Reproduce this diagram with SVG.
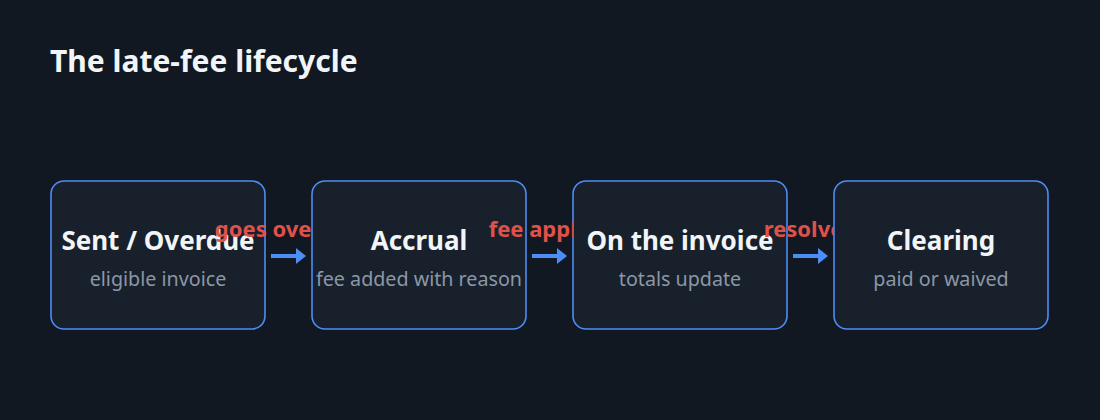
<svg xmlns="http://www.w3.org/2000/svg" width="1100" height="420" viewBox="0 0 1100 420">
  <style>
    .node rect { fill: #18202c; stroke: #4d8df6; stroke-width: 1.6; }
    .title { font-family: "Noto Sans", "Open Sans", sans-serif; font-weight: 700; font-size: 26px; fill: #f2f5f8; text-anchor: middle; }
    .sub { font-family: "Noto Sans", "Open Sans", sans-serif; font-size: 19.7px; fill: #8b97a7; text-anchor: middle; }
    .edge line { stroke: #4d8df6; stroke-width: 4; }
    .elabel { font-family: "Noto Sans", "Open Sans", sans-serif; font-weight: 700; font-size: 22px; fill: #e0514a; text-anchor: middle; }
  </style>
  <defs>
    <marker id="arrow" viewBox="0 0 10 16" refX="0" refY="8" markerWidth="10" markerHeight="16" markerUnits="userSpaceOnUse" orient="auto">
      <path d="M0,0 L10,8 L0,16 Z" fill="#4d8df6"/>
    </marker>
    <clipPath id="c1"><rect x="0" y="0" width="312" height="420"/></clipPath>
    <clipPath id="c2"><rect x="0" y="0" width="573" height="420"/></clipPath>
    <clipPath id="c3"><rect x="0" y="0" width="834" height="420"/></clipPath>
  </defs>
  <rect width="1100" height="420" fill="#111821"/>
  <text x="50" y="72" font-family="Noto Sans, Open Sans, sans-serif" font-weight="700" font-size="30" fill="#f2f5f8">The late-fee lifecycle</text>

  <g id="n1" class="node">
    <rect x="51" y="181" width="214" height="148" rx="13"/>
    <text class="title" x="158" y="250">Sent / Overdue</text>
    <text class="sub" x="158" y="286">eligible invoice</text>
  </g>
  <g id="n2" class="node">
    <rect x="312" y="181" width="214" height="148" rx="13"/>
    <text class="title" x="419" y="250">Accrual</text>
    <text class="sub" x="419" y="286">fee added with reason</text>
  </g>
  <g id="n3" class="node">
    <rect x="573" y="181" width="214" height="148" rx="13"/>
    <text class="title" x="680" y="250">On the invoice</text>
    <text class="sub" x="680" y="286">totals update</text>
  </g>
  <g id="n4" class="node">
    <rect x="834" y="181" width="214" height="148" rx="13"/>
    <text class="title" x="941" y="250">Clearing</text>
    <text class="sub" x="941" y="286">paid or waived</text>
  </g>

  <g id="connectors" class="edge">
    <line x1="271" y1="256" x2="296" y2="256" marker-end="url(#arrow)"/>
    <text class="elabel" x="288.5" y="237" clip-path="url(#c1)">goes overdue</text>
    <line x1="532" y1="256" x2="557" y2="256" marker-end="url(#arrow)"/>
    <text class="elabel" x="549.5" y="237" clip-path="url(#c2)">fee applied</text>
    <line x1="793" y1="256" x2="818" y2="256" marker-end="url(#arrow)"/>
    <text class="elabel" x="810.5" y="237" clip-path="url(#c3)">resolved</text>
  </g>
</svg>
